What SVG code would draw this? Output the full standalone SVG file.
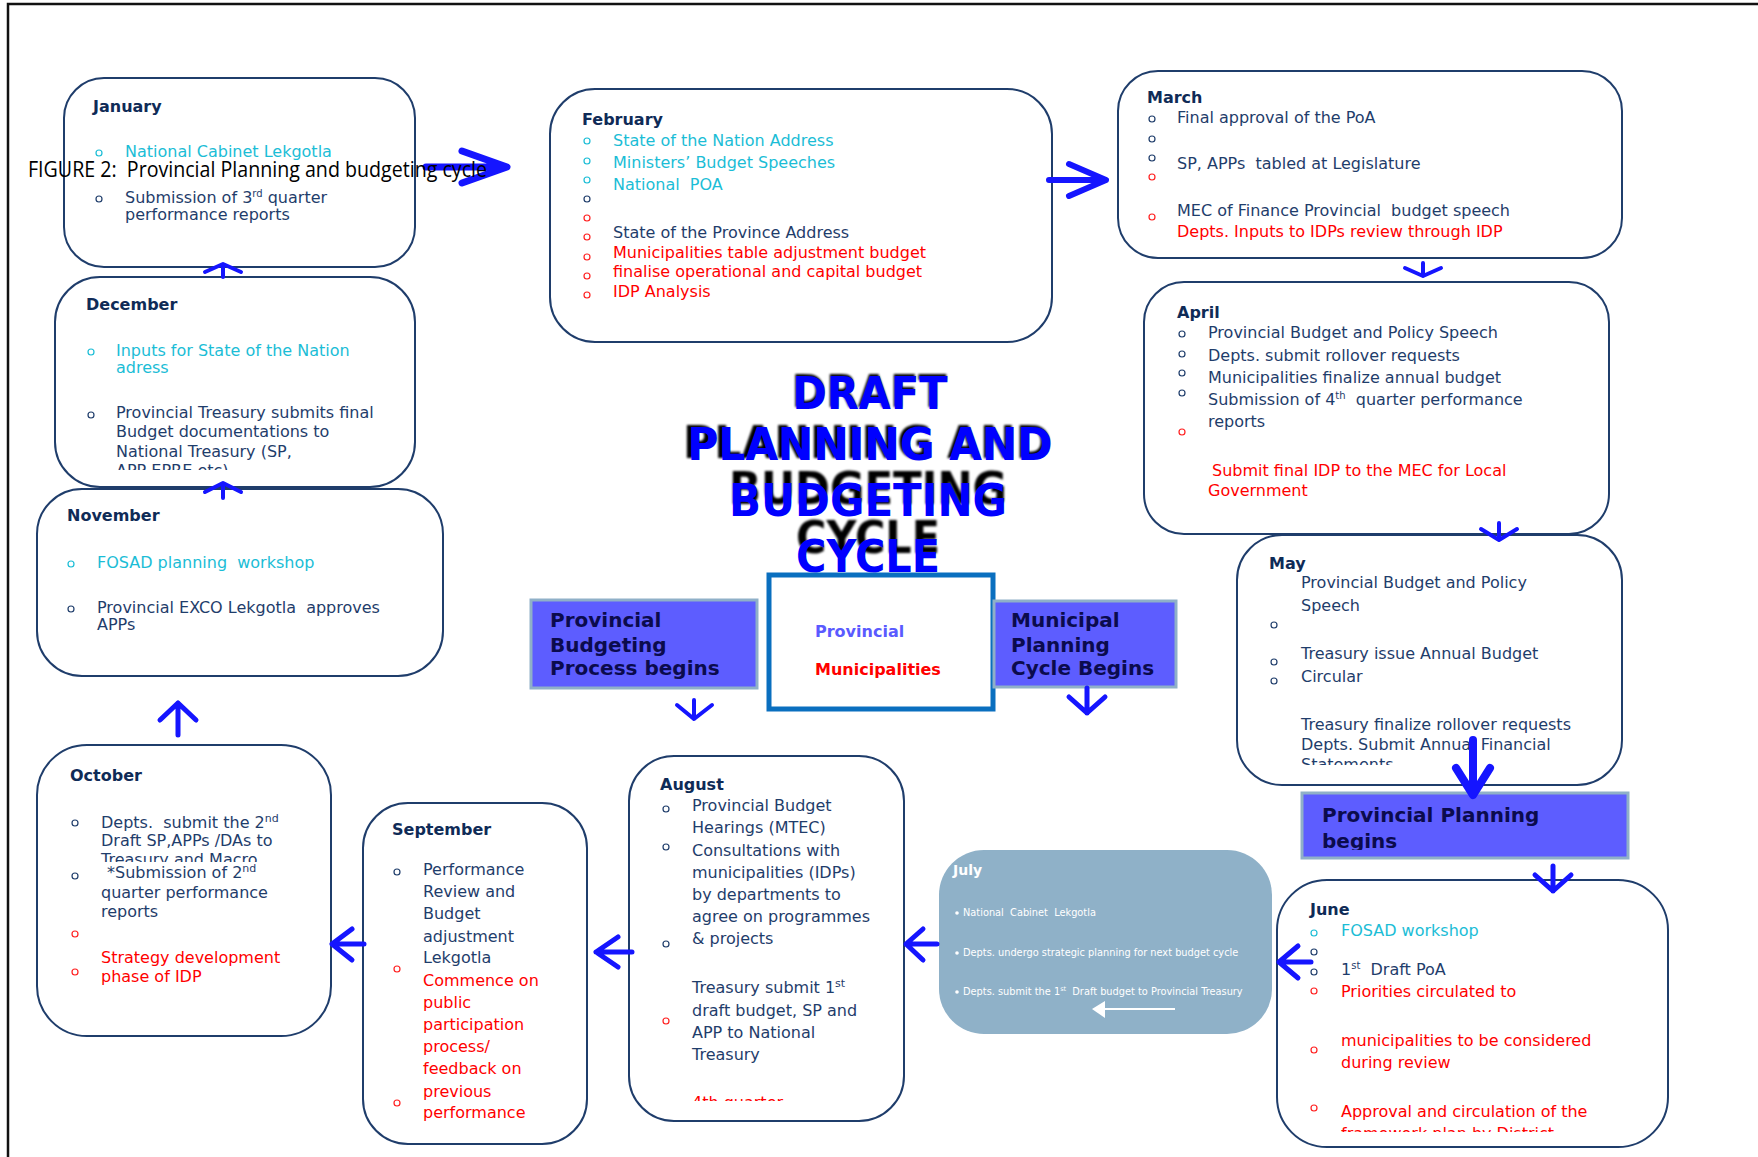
<svg xmlns="http://www.w3.org/2000/svg" width="1758" height="1157" viewBox="0 0 1758 1157">
<style>
text{white-space:pre}
.box{fill:#fff;stroke:#1f3d6b;stroke-width:2}
.h{font-family:"DejaVu Sans",Verdana,sans-serif;font-weight:bold;font-size:16px;fill:#0f2b57}
.t{font-family:"DejaVu Sans",Verdana,sans-serif;font-size:16px;fill:#1f3d6b}
.tl{font-family:"DejaVu Sans",Verdana,sans-serif;font-size:16px;fill:#1f3d6b}
.c{fill:#1bbdd6}
.r{fill:#ff0000}
.bn{fill:none;stroke:#1f3d6b;stroke-width:1.2}
.bc{fill:none;stroke:#1bbdd6;stroke-width:1.2}
.br{fill:none;stroke:#ff2020;stroke-width:1.2}
.arr{fill:none;stroke:#1515ff;stroke-linecap:round;stroke-linejoin:round}
.pb{fill:#5d5dff;stroke:#8fb0c8;stroke-width:3}
.pbt{font-family:"DejaVu Sans",Verdana,sans-serif;font-weight:bold;font-size:20px;fill:#0b0b4d}
.ttl{font-family:"DejaVu Sans",Verdana,sans-serif;font-weight:bold;font-size:45px;text-anchor:middle}
.jt{font-family:"DejaVu Sans",Verdana,sans-serif;font-size:9.8px;fill:#fff}
</style>
<defs>
<filter id="blur" x="-10%" y="-30%" width="120%" height="160%"><feGaussianBlur stdDeviation="1.3"/></filter>
<clipPath id="cDec"><rect x="55" y="277" width="360" height="193"/></clipPath>
<clipPath id="cOct"><rect x="37" y="745" width="294" height="117"/></clipPath>
<clipPath id="cMay"><rect x="1237" y="535" width="385" height="230"/></clipPath>
<clipPath id="cPPB"><rect x="1302" y="793" width="326" height="57"/></clipPath>
<clipPath id="cAug"><rect x="629" y="756" width="275" height="345"/></clipPath>
<clipPath id="cJun"><rect x="1277" y="880" width="391" height="252"/></clipPath>
</defs>
<rect x="0" y="0" width="1758" height="1157" fill="#fff"/>
<path d="M8,1157 L8,4 L1758,4" fill="none" stroke="#111" stroke-width="2.5"/>

<g id="january">
<rect class="box" x="64" y="78" width="351" height="189" rx="40"/>
<text class="h" x="93" y="112">January</text>
<circle class="bc" cx="99" cy="153" r="3"/>
<text class="t c" x="125" y="157">National Cabinet Lekgotla</text>
<circle class="bn" cx="99" cy="199" r="3"/>
<text class="t" x="125" y="203">Submission of 3<tspan font-size="10" dy="-6">rd</tspan><tspan dy="6"> quarter</tspan></text>
<text class="t" x="125" y="220">performance reports</text>
</g>

<g id="february">
<rect class="box" x="550" y="89" width="502" height="253" rx="45"/>
<text class="h" x="582" y="125">February</text>
<circle class="bc" cx="587" cy="141" r="3"/>
<circle class="bc" cx="587" cy="161" r="3"/>
<circle class="bc" cx="587" cy="180" r="3"/>
<circle class="bn" cx="587" cy="199" r="3"/>
<circle class="br" cx="587" cy="218" r="3"/>
<circle class="br" cx="587" cy="237" r="3"/>
<circle class="br" cx="587" cy="257" r="3"/>
<circle class="br" cx="587" cy="276" r="3"/>
<circle class="br" cx="587" cy="295" r="3"/>
<text class="t c" x="613" y="146">State of the Nation Address</text>
<text class="t c" x="613" y="168">Ministers’ Budget Speeches</text>
<text class="t c" x="613" y="190" xml:space="preserve">National  POA</text>
<text class="t" x="613" y="238">State of the Province Address</text>
<text class="t r" x="613" y="258">Municipalities table adjustment budget</text>
<text class="t r" x="613" y="277">finalise operational and capital budget</text>
<text class="t r" x="613" y="297">IDP Analysis</text>
</g>

<g id="march">
<rect class="box" x="1118" y="71" width="504" height="187" rx="40"/>
<text class="h" x="1147" y="103">March</text>
<circle class="bn" cx="1152" cy="119" r="3"/>
<circle class="bn" cx="1152" cy="139" r="3"/>
<circle class="bn" cx="1152" cy="158" r="3"/>
<circle class="br" cx="1152" cy="177" r="3"/>
<circle class="br" cx="1152" cy="217" r="3"/>
<text class="t" x="1177" y="123">Final approval of the PoA</text>
<text class="t" x="1177" y="169" xml:space="preserve">SP, APPs  tabled at Legislature</text>
<text class="t" x="1177" y="216" xml:space="preserve">MEC of Finance Provincial  budget speech</text>
<text class="t r" x="1177" y="237">Depts. Inputs to IDPs review through IDP</text>
</g>

<g id="april">
<rect class="box" x="1144" y="282" width="465" height="252" rx="40"/>
<text class="h" x="1177" y="318">April</text>
<circle class="bn" cx="1182" cy="334" r="3"/>
<circle class="bn" cx="1182" cy="354" r="3"/>
<circle class="bn" cx="1182" cy="373" r="3"/>
<circle class="bn" cx="1182" cy="393" r="3"/>
<circle class="br" cx="1182" cy="432" r="3"/>
<text class="t" x="1208" y="338">Provincial Budget and Policy Speech</text>
<text class="t" x="1208" y="361">Depts. submit rollover requests</text>
<text class="t" x="1208" y="383">Municipalities finalize annual budget</text>
<text class="t" x="1208" y="405" xml:space="preserve">Submission of 4<tspan font-size="10" dy="-6">th</tspan><tspan dy="6">  quarter performance</tspan></text>
<text class="t" x="1208" y="427">reports</text>
<text class="t r" x="1212" y="476">Submit final IDP to the MEC for Local</text>
<text class="t r" x="1208" y="496">Government</text>
</g>

<g id="may">
<rect class="box" x="1237" y="535" width="385" height="250" rx="45"/>
<text class="h" x="1269" y="569">May</text>
<circle class="bn" cx="1274" cy="625" r="3"/>
<circle class="bn" cx="1274" cy="662" r="3"/>
<circle class="bn" cx="1274" cy="681" r="3"/>
<text class="t" x="1301" y="588">Provincial Budget and Policy</text>
<text class="t" x="1301" y="611">Speech</text>
<text class="t" x="1301" y="659">Treasury issue Annual Budget</text>
<text class="t" x="1301" y="682">Circular</text>
<text class="t" x="1301" y="730">Treasury finalize rollover requests</text>
<text class="t" x="1301" y="750">Depts. Submit Annual Financial</text>
<g clip-path="url(#cMay)"><text class="t" x="1301" y="770">Statements</text></g>
</g>

<g id="provincial-planning">
<rect class="pb" x="1302" y="793" width="326" height="65"/>
<text class="pbt" x="1322" y="822">Provincial Planning</text>
<g clip-path="url(#cPPB)"><text class="pbt" x="1322" y="848">begins</text></g>
</g>

<g id="june">
<rect class="box" x="1277" y="880" width="391" height="267" rx="50"/>
<text class="h" x="1310" y="915">June</text>
<circle class="bc" cx="1314" cy="933" r="3"/>
<circle class="bn" cx="1314" cy="952" r="3"/>
<circle class="bn" cx="1314" cy="972" r="3"/>
<circle class="br" cx="1314" cy="991" r="3"/>
<circle class="br" cx="1314" cy="1050" r="3"/>
<circle class="br" cx="1314" cy="1108" r="3"/>
<text class="t c" x="1341" y="936">FOSAD workshop</text>
<text class="t" x="1341" y="975" xml:space="preserve">1<tspan font-size="10" dy="-6">st</tspan><tspan dy="6">  Draft PoA</tspan></text>
<text class="t r" x="1341" y="997">Priorities circulated to</text>
<text class="t r" x="1341" y="1046">municipalities to be considered</text>
<text class="t r" x="1341" y="1068">during review</text>
<text class="t r" x="1341" y="1117">Approval and circulation of the</text>
<g clip-path="url(#cJun)"><text class="t r" x="1341" y="1139">framework plan by District</text></g>
</g>

<g id="july">
<rect x="939" y="850" width="333" height="184" rx="45" fill="#8fb1c8"/>
<text x="953" y="875" font-family="DejaVu Sans,Verdana,sans-serif" font-weight="bold" font-size="14" fill="#fff">July</text>
<circle cx="957" cy="913" r="1.8" fill="#fff"/>
<circle cx="957" cy="953" r="1.8" fill="#fff"/>
<circle cx="957" cy="992" r="1.8" fill="#fff"/>
<text class="jt" x="963" y="916" xml:space="preserve">National  Cabinet  Lekgotla</text>
<text class="jt" x="963" y="956">Depts. undergo strategic planning for next budget cycle</text>
<text class="jt" x="963" y="995" xml:space="preserve">Depts. submit the 1<tspan font-size="6.5" dy="-4">st</tspan><tspan dy="4">  Draft budget to Provincial Treasury</tspan></text>
<line x1="1175" y1="1009" x2="1100" y2="1009" stroke="#fff" stroke-width="2"/>
<polygon points="1092,1009 1105,1001 1105,1018" fill="#fff"/>
</g>

<g id="august">
<rect class="box" x="629" y="756" width="275" height="365" rx="45"/>
<text class="h" x="660" y="790">August</text>
<circle class="bn" cx="666" cy="809" r="3"/>
<circle class="bn" cx="666" cy="847" r="3"/>
<circle class="bn" cx="666" cy="944" r="3"/>
<circle class="br" cx="666" cy="1021" r="3"/>
<text class="tl" x="692" y="811">Provincial Budget</text>
<text class="tl" x="692" y="833">Hearings (MTEC)</text>
<text class="tl" x="692" y="856">Consultations with</text>
<text class="tl" x="692" y="878">municipalities (IDPs)</text>
<text class="tl" x="692" y="900">by departments to</text>
<text class="tl" x="692" y="922">agree on programmes</text>
<text class="tl" x="692" y="944">&amp; projects</text>
<text class="tl" x="692" y="993">Treasury submit 1<tspan font-size="11" dy="-6">st</tspan></text>
<text class="tl" x="692" y="1016">draft budget, SP and</text>
<text class="tl" x="692" y="1038">APP to National</text>
<text class="tl" x="692" y="1060">Treasury</text>
<g clip-path="url(#cAug)"><text class="tl r" x="692" y="1108">4th quarter</text></g>
</g>

<g id="september">
<rect class="box" x="363" y="803" width="224" height="341" rx="45"/>
<text class="h" x="392" y="835">September</text>
<circle class="bn" cx="397" cy="872" r="3"/>
<circle class="br" cx="397" cy="969" r="3"/>
<circle class="br" cx="397" cy="1103" r="3"/>
<text class="tl" x="423" y="875">Performance</text>
<text class="tl" x="423" y="897">Review and</text>
<text class="tl" x="423" y="919">Budget</text>
<text class="tl" x="423" y="942">adjustment</text>
<text class="tl" x="423" y="963">Lekgotla</text>
<text class="tl r" x="423" y="986">Commence on</text>
<text class="tl r" x="423" y="1008">public</text>
<text class="tl r" x="423" y="1030">participation</text>
<text class="tl r" x="423" y="1052">process/</text>
<text class="tl r" x="423" y="1074">feedback on</text>
<text class="tl r" x="423" y="1097">previous</text>
<text class="tl r" x="423" y="1118">performance</text>
</g>

<g id="october">
<rect class="box" x="37" y="745" width="294" height="291" rx="50"/>
<text class="h" x="70" y="781">October</text>
<circle class="bn" cx="75" cy="823" r="3"/>
<circle class="bn" cx="75" cy="876" r="3"/>
<circle class="br" cx="75" cy="934" r="3"/>
<circle class="br" cx="75" cy="972" r="3"/>
<text class="tl" x="101" y="828" xml:space="preserve">Depts.  submit the 2<tspan font-size="11" dy="-6">nd</tspan></text>
<text class="tl" x="101" y="846">Draft SP,APPs /DAs to</text>
<g clip-path="url(#cOct)"><text class="tl" x="101" y="865">Treasury and Macro</text></g>
<text class="tl" x="107" y="878">*Submission of 2<tspan font-size="11" dy="-6">nd</tspan></text>
<text class="tl" x="101" y="898">quarter performance</text>
<text class="tl" x="101" y="917">reports</text>
<text class="tl r" x="101" y="963">Strategy development</text>
<text class="tl r" x="101" y="982">phase of IDP</text>
</g>

<g id="november">
<rect class="box" x="37" y="489" width="406" height="187" rx="45"/>
<text class="h" x="67" y="521">November</text>
<circle class="bc" cx="71" cy="564" r="3"/>
<circle class="bn" cx="71" cy="609" r="3"/>
<text class="t c" x="97" y="568" xml:space="preserve">FOSAD planning  workshop</text>
<text class="t" x="97" y="613" xml:space="preserve">Provincial EXCO Lekgotla  approves</text>
<text class="t" x="97" y="630">APPs</text>
</g>

<g id="december">
<rect class="box" x="55" y="277" width="360" height="210" rx="45"/>
<text class="h" x="86" y="310">December</text>
<circle class="bc" cx="91" cy="352" r="3"/>
<circle class="bn" cx="91" cy="415" r="3"/>
<text class="t c" x="116" y="356">Inputs for State of the Nation</text>
<text class="t c" x="116" y="373">adress</text>
<text class="t" x="116" y="418">Provincial Treasury submits final</text>
<text class="t" x="116" y="437">Budget documentations to</text>
<text class="t" x="116" y="457">National Treasury (SP,</text>
<g clip-path="url(#cDec)"><text class="t" x="116" y="476">APP EPRE etc)</text></g>
</g>

<g id="title">
<g filter="url(#blur)" fill="#000">
<text class="ttl" x="869" y="407" textLength="155" lengthAdjust="spacingAndGlyphs">DRAFT</text>
<text class="ttl" x="867" y="458" textLength="368" lengthAdjust="spacingAndGlyphs">PLANNING AND</text>
<text class="ttl" x="868" y="504" textLength="278" lengthAdjust="spacingAndGlyphs">BUDGETING</text>
<text class="ttl" x="868" y="553" textLength="144" lengthAdjust="spacingAndGlyphs">CYCLE</text>
</g>
<g fill="#0000ff">
<text class="ttl" x="870" y="409" textLength="155" lengthAdjust="spacingAndGlyphs">DRAFT</text>
<text class="ttl" x="870" y="460" textLength="365" lengthAdjust="spacingAndGlyphs">PLANNING AND</text>
<text class="ttl" x="868" y="516" textLength="278" lengthAdjust="spacingAndGlyphs">BUDGETING</text>
<text class="ttl" x="868" y="572" textLength="144" lengthAdjust="spacingAndGlyphs">CYCLE</text>
</g>
</g>

<g id="center">
<rect x="769" y="575" width="224" height="134" fill="#fff" stroke="#0a6fbf" stroke-width="5"/>
<text x="815" y="637" font-family="DejaVu Sans,Verdana,sans-serif" font-weight="bold" font-size="16" fill="#5a5aff">Provincial</text>
<text x="815" y="675" font-family="DejaVu Sans,Verdana,sans-serif" font-weight="bold" font-size="16" fill="#ff0000">Municipalities</text>
</g>

<g id="provincial-budgeting">
<rect class="pb" x="531" y="600" width="226" height="88"/>
<text class="pbt" x="550" y="627">Provincial</text>
<text class="pbt" x="550" y="652">Budgeting</text>
<text class="pbt" x="550" y="675">Process begins</text>
</g>

<g id="municipal-planning">
<rect class="pb" x="994" y="601" width="182" height="86"/>
<text class="pbt" x="1011" y="627">Municipal</text>
<text class="pbt" x="1011" y="652">Planning</text>
<text class="pbt" x="1011" y="675">Cycle Begins</text>
</g>

<g id="connectors">
<path class="arr" stroke-width="7" d="M426,167 L504,167 M462,151 L507,167 L462,183"/>
<path class="arr" stroke-width="6" d="M1049,180 L1104,180 M1069,164 L1106,180 L1069,196"/>
<path class="arr" stroke-width="4" d="M1423,263 L1423,276 M1405,268 L1423,276 L1441,268"/>
<path class="arr" stroke-width="4" d="M1499,523 L1499,540 M1481,529 L1499,540 L1517,529"/>
<path class="arr" stroke-width="8" d="M1473,740 L1473,792 M1456,768 L1473,795 L1490,768"/>
<path class="arr" stroke-width="5" d="M1553,866 L1553,891 M1535,875 L1553,891 L1571,875"/>
<path class="arr" stroke-width="5" d="M1311,962 L1279,962 M1298,946 L1279,962 L1298,978"/>
<path class="arr" stroke-width="5" d="M937,944 L906,944 M923,929 L906,944 L923,960"/>
<path class="arr" stroke-width="5" d="M632,952 L596,952 M618,937 L596,952 L618,967"/>
<path class="arr" stroke-width="5" d="M364,944 L332,944 M352,929 L332,944 L352,960"/>
<path class="arr" stroke-width="5" d="M178,735 L178,703 M160,720 L178,703 L196,720"/>
<path class="arr" stroke-width="4" d="M223,498 L223,484 M205,492 L223,483 L241,492"/>
<path class="arr" stroke-width="4" d="M223,277 L223,265 M205,272 L223,264 L241,272"/>
<path class="arr" stroke-width="4" d="M694,700 L694,719 M677,705 L694,719 L712,705"/>
<path class="arr" stroke-width="5" d="M1087,688 L1087,713 M1069,697 L1087,713 L1105,697"/>
</g>

<text x="28" y="177" xml:space="preserve" font-family="Open Sans,Noto Sans,sans-serif" font-size="21" fill="#000" textLength="459" lengthAdjust="spacingAndGlyphs">FIGURE 2:  Provincial Planning and budgeting cycle</text>
</svg>
